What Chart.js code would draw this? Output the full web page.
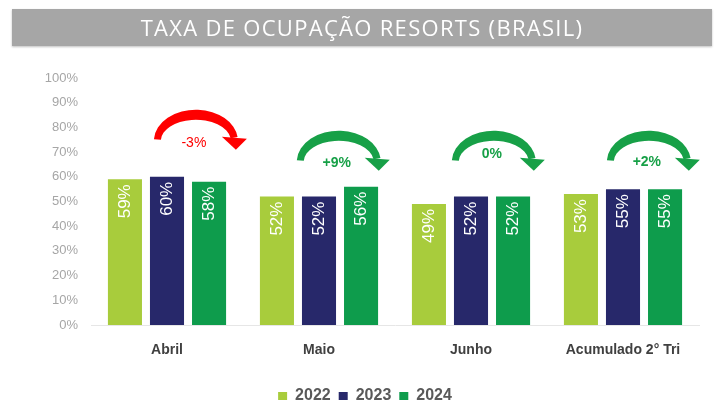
<!DOCTYPE html>
<html>
<head>
<meta charset="utf-8">
<script src="https://cdn.jsdelivr.net/npm/chart.js@4.4.1/dist/chart.umd.min.js"></script>
<style>
  html, body { margin:0; padding:0; background:#ffffff; }
  #wrap { position:relative; width:720px; height:414px; overflow:hidden; }
  #title { position:absolute; left:12px; top:9px; width:700px; height:37px; background:#a6a6a6;
    box-shadow:0 1px 2px rgba(0,0,0,0.25);
    color:#ffffff; font-family:"Open Sans", sans-serif; font-weight:400; font-size:22px;
    line-height:37px; text-align:center; letter-spacing:1.3px; z-index:2; }
  canvas { position:absolute; left:0; top:0; }
</style>
</head>
<body>
<div id="wrap">
  <div id="title">TAXA DE OCUPAÇÃO RESORTS (BRASIL)</div>
  <canvas id="c" width="720" height="414"></canvas>
</div>
<script>
const categories = ['Abril', 'Maio', 'Junho', 'Acumulado 2° Tri'];
const seriesNames = ['2022', '2023', '2024'];
const values2022 = [59, 52, 49, 53];
const values2023 = [60, 52, 52, 55];
const values2024 = [58, 56, 52, 55];
const variationLabels = ['-3%', '+9%', '0%', '+2%'];
const yTickValues = [0, 10, 20, 30, 40, 50, 60, 70, 80, 90, 100];

const colors = ['#a8cc3c', '#27286a', '#0e9c4c'];

const barLabelPlugin = {
  id: 'barLabels',
  afterDatasetsDraw(chart) {
    const ctx = chart.ctx;
    ctx.save();
    ctx.fillStyle = '#ffffff';
    ctx.font = '17px "Liberation Sans", Arial, sans-serif';
    ctx.textAlign = 'right';
    ctx.textBaseline = 'middle';
    chart.data.datasets.forEach((ds, di) => {
      const meta = chart.getDatasetMeta(di);
      meta.data.forEach((el, i) => {
        ctx.save();
        ctx.translate(el.x, el.y + 5);
        ctx.rotate(-Math.PI / 2);
        ctx.fillText(ds.data[i] + '%', 0, 0);
        ctx.restore();
      });
    });
    ctx.restore();
  }
};

const arrowPlugin = {
  id: 'arrows',
  afterDatasetsDraw(chart, args, opts) {
    const ctx = chart.ctx;
    const xs = chart.scales.x, ys = chart.scales.y;
    const catW = (xs.right - xs.left) / categories.length;
    opts.items.forEach((a, i) => {
      const cx = xs.getPixelForValue(i) + a.dx * catW;
      const cy = ys.getPixelForValue(a.level);
      const rxO = 42, ryO = 31, rxI = 35, ryI = 21;
      const end = 2 * Math.PI - 0.12;
      ctx.save();
      ctx.fillStyle = a.color;
      ctx.beginPath();
      ctx.ellipse(cx, cy + 1, rxO, ryO, 0, Math.PI + 0.05, end, false);
      ctx.ellipse(cx, cy + 1, rxI, ryI, 0, end, Math.PI + 0.05, true);
      ctx.closePath();
      ctx.fill();
      // arrow head
      ctx.beginPath();
      ctx.moveTo(cx + 26, cy - 3);
      ctx.lineTo(cx + 51, cy - 1);
      ctx.lineTo(cx + 40, cy + 10);
      ctx.closePath();
      ctx.fill();
      ctx.font = (a.bold ? 'bold ' : '') + '14px "Liberation Sans", Arial, sans-serif';
      ctx.textAlign = 'center';
      ctx.textBaseline = 'middle';
      ctx.fillText(variationLabels[i], cx - 2, cy + a.ty);
      ctx.restore();
    });
  }
};

new Chart(document.getElementById('c'), {
  type: 'bar',
  data: {
    labels: categories,
    datasets: [
      { label: seriesNames[0], data: values2022, backgroundColor: colors[0] },
      { label: seriesNames[1], data: values2023, backgroundColor: colors[1] },
      { label: seriesNames[2], data: values2024, backgroundColor: colors[2] }
    ]
  },
  options: {
    responsive: false,
    animation: false,
    devicePixelRatio: 1,
    datasets: { bar: { categoryPercentage: 0.83, barPercentage: 0.81 } },
    layout: { padding: { left: 31, right: 21, top: 78, bottom: 0 } },
    scales: {
      x: {
        grid: { display: false, drawTicks: false },
        border: { display: true, color: '#e6e6e6', width: 1 },
        ticks: { padding: 17, color: '#404040',
          font: { family: '"Liberation Sans", Arial, sans-serif', size: 14, weight: 'bold' } },
        afterFit(s) { s.height = 55; }
      },
      y: {
        min: 0, max: 100,
        afterBuildTicks(s) { s.ticks = yTickValues.map(v => ({ value: v })); },
        grid: { display: false, drawTicks: false },
        border: { display: false },
        ticks: { padding: 13, color: '#a6a6a6', callback: v => v + '%',
          font: { family: '"Liberation Sans", Arial, sans-serif', size: 13 } },
        afterFit(s) { s.width = 60; }
      }
    },
    plugins: {
      legend: {
        position: 'bottom',
        labels: { boxWidth: 9, boxHeight: 8, padding: 8, color: '#595959',
          font: { family: '"Liberation Sans", Arial, sans-serif', size: 16, weight: 'bold' } }
      },
      tooltip: { enabled: false },
      arrows: {
        items: [
          { dx: 0.19, level: 75, color: '#fe0000', bold: false, ty: 3 },
          { dx: 0.13, level: 66.5, color: '#17a047', bold: true, ty: 2 },
          { dx: 0.15, level: 66.5, color: '#17a047', bold: true, ty: -7 },
          { dx: 0.17, level: 66.5, color: '#17a047', bold: true, ty: 1 }
        ]
      }
    }
  },
  plugins: [barLabelPlugin, arrowPlugin]
});
</script>
</body>
</html>
